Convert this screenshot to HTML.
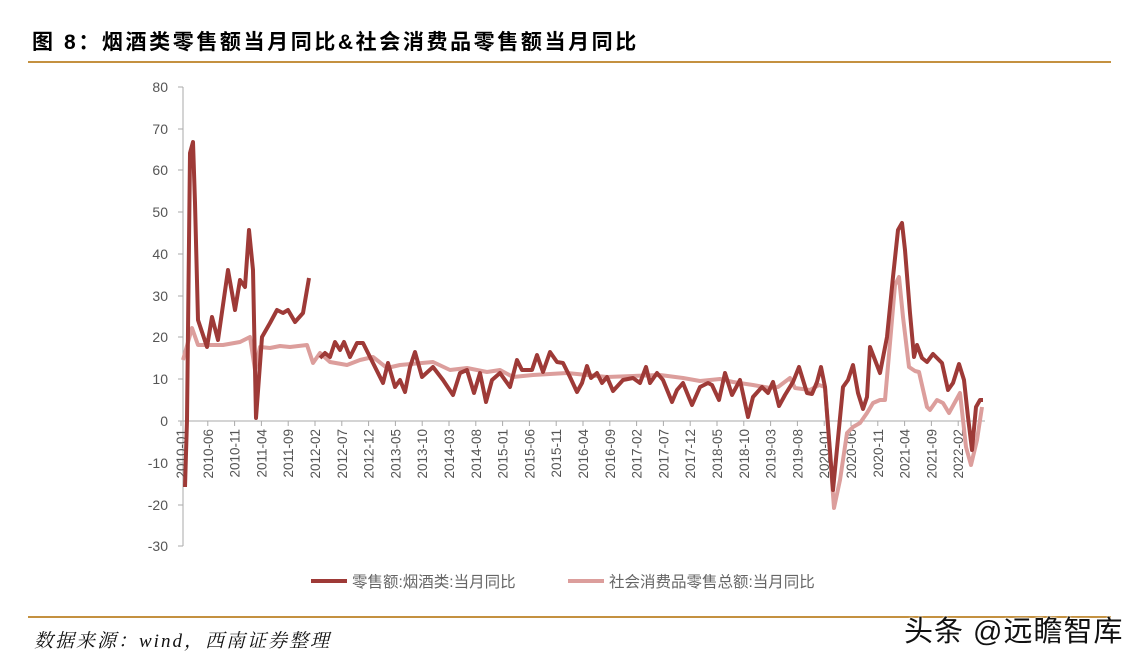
<!DOCTYPE html>
<html><head><meta charset="utf-8"><style>
body{margin:0;width:1148px;height:659px;background:#fff;overflow:hidden;position:relative;font-family:"Liberation Sans","Noto Sans CJK SC",sans-serif}
.t{position:absolute;left:32px;top:26px;font-size:21px;font-weight:bold;color:#000;letter-spacing:2.6px;font-family:"Liberation Sans","Noto Sans CJK SC",sans-serif;white-space:nowrap}
.hl{position:absolute;left:28px;width:1083px;height:2px;background:#c49140}
.src{position:absolute;left:34px;top:626px;font-size:19px;font-style:italic;color:#111;letter-spacing:2px;font-family:"Liberation Serif","Noto Serif CJK SC",serif;white-space:nowrap}
.wm{position:absolute;left:904px;top:608px;font-size:29px;letter-spacing:1px;color:#111;font-family:"Liberation Sans","Noto Sans CJK SC",sans-serif;text-shadow:0 0 2px #fff,0 0 2px #fff;white-space:nowrap}
</style></head><body>
<div class="t">图 8：烟酒类零售额当月同比&amp;社会消费品零售额当月同比</div>
<div class="hl" style="top:61px"></div>
<div class="hl" style="top:616px"></div>
<div class="src">数据来源：wind，西南证券整理</div>
<div class="wm">头条 @远瞻智库</div>
<svg width="1148" height="659" style="position:absolute;left:0;top:0">
<g font-family="Liberation Sans, sans-serif" font-size="14" fill="#555" text-anchor="end">
<text x="168" y="92">80</text><text x="168" y="134">70</text><text x="168" y="175">60</text><text x="168" y="217">50</text>
<text x="168" y="259">40</text><text x="168" y="301">30</text><text x="168" y="342">20</text><text x="168" y="384">10</text>
<text x="168" y="426">0</text><text x="168" y="468">-10</text><text x="168" y="510">-20</text><text x="168" y="551">-30</text>
</g>
<g stroke="#aaa" stroke-width="1">
<line x1="183" y1="87" x2="183" y2="546"/>
<line x1="178" y1="87" x2="183" y2="87"/><line x1="178" y1="129" x2="183" y2="129"/><line x1="178" y1="170" x2="183" y2="170"/><line x1="178" y1="212" x2="183" y2="212"/><line x1="178" y1="254" x2="183" y2="254"/><line x1="178" y1="296" x2="183" y2="296"/><line x1="178" y1="337" x2="183" y2="337"/><line x1="178" y1="379" x2="183" y2="379"/><line x1="178" y1="421" x2="183" y2="421"/><line x1="178" y1="463" x2="183" y2="463"/><line x1="178" y1="505" x2="183" y2="505"/><line x1="178" y1="546" x2="183" y2="546"/>
<line x1="183" y1="421" x2="985" y2="421"/>
</g>
<g id="xt"></g>
<polyline fill="none" stroke="#dc9e9c" stroke-width="4" stroke-linejoin="round" points="183,360 192,328 198,345 223,345 240,342 250,337 255,370 260,347 270,348 280,346 290,347 307,345 313,363 320,353 330,362 347,365 360,360 373,357 387,368 400,365 433,362 450,370 467,368 487,372 500,370 513,377 533,375 567,373 587,375 607,377 633,376 660,375 683,378 700,381 720,379 733,382 753,385 770,388 778,387 790,378 795,388 810,390 819,385 825,387 834,508 840,480 847,433 853,427 860,423 867,413 873,403 880,400 885,400 890,343 895,285 899,277 903,317 909,367 915,371 919,372 927,407 930,410 937,400 943,403 949,413 960,393 966,447 971,465 977,440 982,407"/>
<polyline fill="none" stroke="#9e3a37" stroke-width="4" stroke-linejoin="round" points="185,487 187,420 190,153 193,142 195,203 198,320 207,347 212,317 218,340 228,270 235,310 240,280 245,287 249,230 253,270 256,418 262,337 270,323 277,310 283,313 288,310 295,322 303,313 309,278"/>
<polyline fill="none" stroke="#9e3a37" stroke-width="4" stroke-linejoin="round" points="320,358 325,353 330,357 335,342 340,350 344,342 350,357 357,343 363,343 373,363 383,383 388,363 395,387 400,380 405,392 410,367 415,352 422,377 433,367 443,380 453,395 460,373 467,370 474,393 480,373 486,402 492,380 500,373 510,387 517,360 522,370 532,370 537,355 543,372 550,352 557,362 563,363 570,377 577,392 582,383 587,366 591,378 597,373 602,383 607,377 613,391 623,380 633,378 640,383 646,367 650,383 657,373 663,380 672,402 677,390 683,383 692,405 700,387 708,383 712,385 719,400 725,373 732,395 740,380 748,417 753,397 762,387 768,393 773,382 779,406 785,395 793,382 799,367 807,393 812,394 817,382 821,367 825,387 833,490 843,387 848,380 853,365 858,393 863,409 867,397 870,347 875,360 880,373 887,337 893,277 898,230 902,223 905,250 910,313 914,357 917,345 922,358 927,362 933,354 937,358 942,363 948,390 953,383 959,364 964,380 968,417 972,450 976,407 980,400 983,400"/>
<line x1="311" y1="581" x2="347" y2="581" stroke="#9e3a37" stroke-width="4"/>
<text x="352" y="587" font-size="15.5" fill="#666" font-family="Liberation Sans, Noto Sans CJK SC, sans-serif">零售额:烟酒类:当月同比</text>
<line x1="568" y1="581" x2="604" y2="581" stroke="#dc9e9c" stroke-width="4"/>
<text x="609" y="587" font-size="15.5" fill="#666" font-family="Liberation Sans, Noto Sans CJK SC, sans-serif">社会消费品零售总额:当月同比</text>
</svg>
<script>
var g=document.getElementById('xt'),s='';
for(var k=0;k<30;k++){var m=k*5,y=2010+Math.floor(m/12),mo=m%12+1,x=(181+5.36*m).toFixed(1);
s+='<line x1="'+x+'" y1="421" x2="'+x+'" y2="426" stroke="#aaa"/>';
s+='<text transform="translate('+(+x+5)+',429) rotate(-90)" text-anchor="end" font-size="13.5" fill="#555" font-family="Liberation Sans, sans-serif">'+y+'-'+(mo<10?'0':'')+mo+'</text>';}
g.innerHTML=s;
</script>
</body></html>
